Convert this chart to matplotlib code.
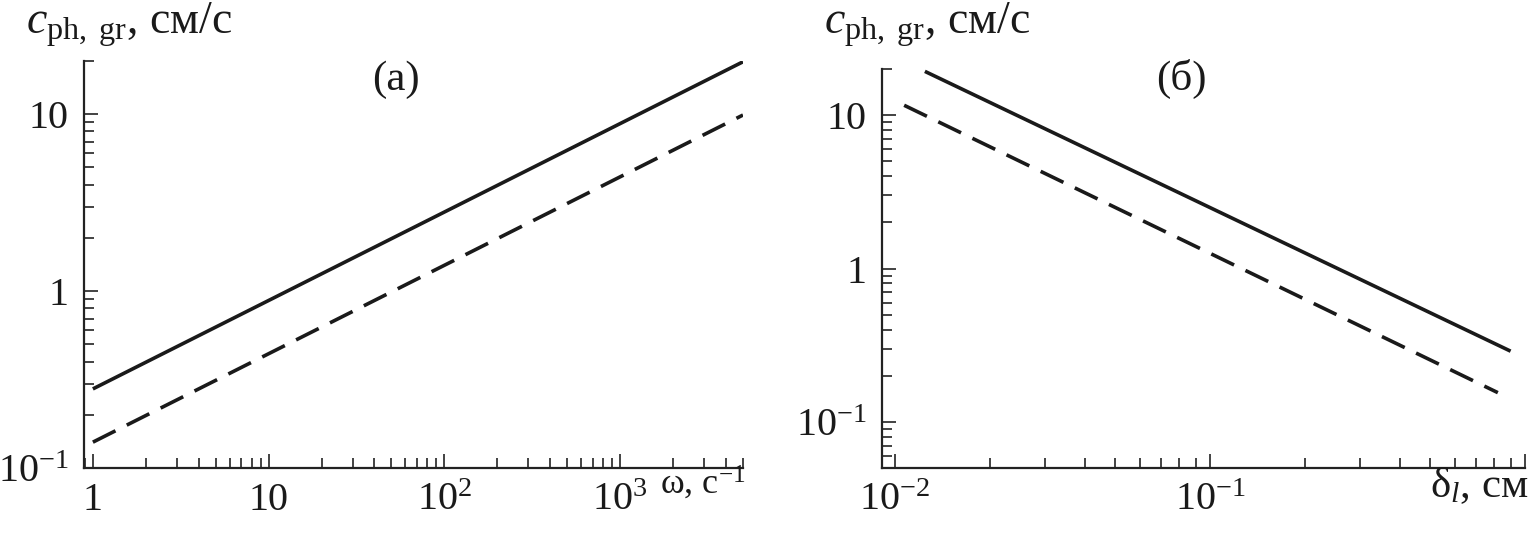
import numpy as np
import matplotlib
matplotlib.use('Agg')
import matplotlib.pyplot as plt
from matplotlib.ticker import LogLocator, NullFormatter

plt.rcParams['font.family'] = ['Liberation Serif', 'DejaVu Serif']
plt.rcParams['mathtext.fontset'] = 'custom'
plt.rcParams['mathtext.rm'] = 'Liberation Serif'
plt.rcParams['mathtext.it'] = 'Liberation Serif:italic'

# (а) velocity vs frequency
omega = [1, 5000]
c_ph_a = [0.28, 19.8]
c_gr_a = [0.14, 9.9]

# (б) velocity vs layer thickness
delta_ph = [0.01245, 0.9]
c_ph_b = [19.3, 0.289]
delta_gr = [0.0107, 0.82]
c_gr_b = [11.6, 0.155]

xticks_a = [1, 10, 100, 1000]
xlabels_a = ['1', '10', r'$10^2$', r'$10^3$']
xticks_b = [0.01, 0.1, 1.0]
xlabels_b = [r'$10^{-2}$', r'$10^{-1}$', '']
yticks = [0.1, 1, 10]
ylabels = [r'$10^{-1}$', '1', '10']

W, H = 1530, 534
fig = plt.figure(figsize=(W / 100, H / 100), dpi=100)
ax1 = fig.add_axes([84 / W, 1 - 468 / H, (743 - 84) / W, (468 - 61) / H])
ax2 = fig.add_axes([882 / W, 1 - 468 / H, (1525 - 882) / W, (468 - 69) / H])

ink = '#1a1a1a'
lw = 2.6
for ax in (ax1, ax2):
    ax.set_xscale('log')
    ax.set_yscale('log')
    for s in ('top', 'right'):
        ax.spines[s].set_visible(False)
    for s in ('left', 'bottom'):
        ax.spines[s].set_linewidth(1.6)
        ax.spines[s].set_color('#222222')
    ax.tick_params(which='major', direction='in', length=10, width=1.2,
                   labelsize=29, color='#222222', labelcolor=ink)
    ax.tick_params(which='minor', direction='in', length=7, width=1.2,
                   color='#222222')
    ax.tick_params(axis='x', which='major', pad=10)
    ax.tick_params(axis='y', which='major', pad=11)
    ax.xaxis.set_minor_locator(LogLocator(base=10, subs=np.arange(2, 10), numticks=20))
    ax.yaxis.set_minor_locator(LogLocator(base=10, subs=np.arange(2, 10), numticks=20))
    ax.xaxis.set_minor_formatter(NullFormatter())
    ax.yaxis.set_minor_formatter(NullFormatter())

ax1.plot(omega, c_ph_a, color=ink, lw=lw, solid_capstyle='butt')
ax1.plot(omega, c_gr_a, color=ink, lw=lw, dashes=(7, 3.5))
ax1.set_xlim(0.89, 5000)
ax1.set_ylim(0.1, 20)
ax1.set_xticks(xticks_a, xlabels_a)

ax2.plot(delta_ph, c_ph_b, color=ink, lw=lw, solid_capstyle='butt')
ax2.plot(delta_gr, c_gr_b, color=ink, lw=lw, dashes=(7, 3.5))
ax2.set_xlim(0.0091, 1.0)
ax2.set_ylim(0.05, 20)
ax2.set_xticks(xticks_b, xlabels_b)

ax1.set_yticks(yticks, ylabels)
ax2.set_yticks(yticks, ylabels)

# axis titles
ylab = r'$c_{\mathrm{ph,\ gr}}$, см/с'
fig.text(26 / W, 1 - 34 / H, ylab, fontsize=33, color=ink)
fig.text(824 / W, 1 - 34 / H, ylab, fontsize=33, color=ink)
fig.text(746 / W, 1 - 494 / H, r'ω, с$^{-1}$', fontsize=26, ha='right', color=ink)
fig.text(1529 / W, 1 - 497 / H, r'δ$_l$, см', fontsize=31, ha='right', color=ink)

# panel labels
fig.text(396 / W, 1 - 90 / H, '(а)', fontsize=31, ha='center', color=ink)
fig.text(1181 / W, 1 - 90 / H, '(б)', fontsize=31, ha='center', color=ink)

fig.savefig('out.png', dpi=100)
